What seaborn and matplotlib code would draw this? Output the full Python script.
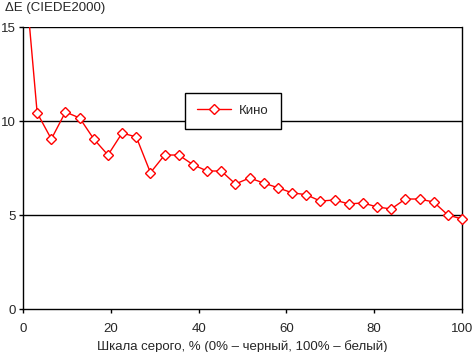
import numpy as np
import pandas as pd
import matplotlib
matplotlib.use("Agg")
import matplotlib.pyplot as plt
import matplotlib.patches as mpatches
import seaborn as sns

# Data
gray_pct = [i * 100 / 31 for i in range(32)]
delta_e = [19.0, 10.43, 9.04, 10.48, 10.16, 9.04, 8.19, 9.36, 9.15, 7.25,
           8.19, 8.19, 7.68, 7.34, 7.34, 6.65, 6.97, 6.70, 6.45, 6.18,
           6.08, 5.74, 5.80, 5.59, 5.64, 5.43, 5.32, 5.85, 5.85, 5.69,
           5.00, 4.79]
series_name = "Кино"
x_ticks = [0, 20, 40, 60, 80, 100]
y_ticks = [0, 5, 10, 15]

sns.set_style("white")
plt.rcParams['font.family'] = ['Liberation Sans', 'DejaVu Sans']
fs = 9.5

df = pd.DataFrame({"x": gray_pct, "y": delta_e, "s": series_name})

fig = plt.figure(figsize=(4.72, 3.52), dpi=100)
ax = fig.add_axes([23 / 472, 1 - 309 / 352, (462 - 23) / 472, (309 - 27) / 352])

sns.lineplot(data=df, x="x", y="y", hue="s", palette=["#ff0000"], ax=ax,
             marker="D", markersize=5.5, markerfacecolor="white",
             markeredgecolor="#ff0000", markeredgewidth=1.0, linewidth=1.0)

ax.set_xlim(0, 100)
ax.set_ylim(0, 15)

# clip only at the top of the plot (let edge markers show at sides)
clip = mpatches.Rectangle((-5, -2), 110, 17, transform=ax.transData,
                          facecolor="none", edgecolor="none")
ax.add_patch(clip)
clip.set_visible(False)
for ln in ax.lines:
    ln.set_clip_path(clip)
    ln.set_zorder(5)

ax.set_xticks(x_ticks)
ax.set_yticks(y_ticks)
ax.tick_params(axis="x", labelsize=fs, length=3, width=1, color="black",
               direction="out", pad=7, bottom=True)
ax.tick_params(axis="y", labelsize=fs, length=3, width=1, color="black",
               direction="out", pad=2, left=True)
for yv in y_ticks[1:]:
    ax.axhline(yv, color="black", linewidth=1.0, zorder=1)
for side in ["left", "right", "bottom"]:
    ax.spines[side].set_visible(True)
    ax.spines[side].set_color("black")
    ax.spines[side].set_linewidth(1.0)
ax.spines["top"].set_visible(False)

ax.set_xlabel("Шкала серого, % (0% – черный, 100% – белый)", fontsize=fs, labelpad=4)
ax.set_ylabel("")
fig.text(5 / 472, 1 - 8 / 352, "ΔE (CIEDE2000)", fontsize=fs, va="center", ha="left")

leg = ax.legend(loc="upper left", bbox_to_anchor=((185 - 23) / 439, 1 - (93 - 27) / 282),
                frameon=True, fancybox=False, fontsize=fs, borderpad=0.9,
                handlelength=2.6, borderaxespad=0, handletextpad=0.6)
leg.get_frame().set_edgecolor("black")
leg.get_frame().set_linewidth(1.0)
leg.get_frame().set_alpha(1)
leg.set_zorder(10)
leg.set_title(None)

fig.savefig("out.png", dpi=100, facecolor="white")
